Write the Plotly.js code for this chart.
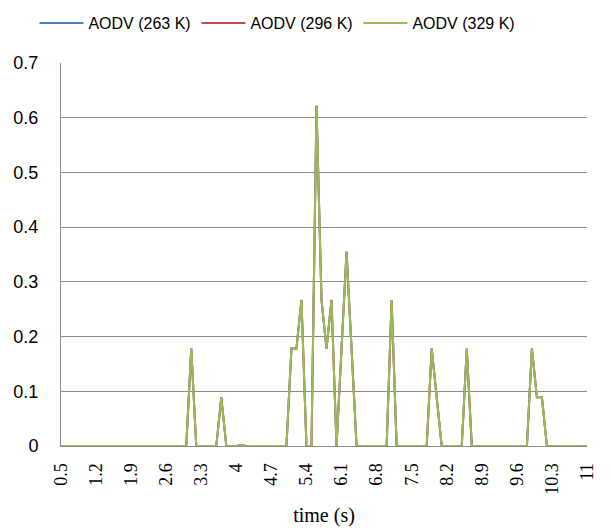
<!DOCTYPE html>
<html>
<head>
<meta charset="utf-8">
<script src="https://cdn.plot.ly/plotly-3.0.1.min.js"></script>
<style>html,body{margin:0;padding:0;background:#fff;}#chart{width:611px;height:530px;}</style>
</head>
<body>
<div id="chart"></div>
<script>
const seriesNames = ["AODV (263 K)", "AODV (296 K)", "AODV (329 K)"];
const seriesColors = ["#4F81BD", "#C0504D", "#9BBB59"];

const timeS = [
  0.5, 0.6, 0.7, 0.8, 0.9, 1.0, 1.1, 1.2, 1.3, 1.4,
  1.5, 1.6, 1.7, 1.8, 1.9, 2.0, 2.1, 2.2, 2.3, 2.4,
  2.5, 2.6, 2.7, 2.8, 2.9, 3.0, 3.1, 3.2, 3.3, 3.4,
  3.5, 3.6, 3.7, 3.8, 3.9, 4.0, 4.1, 4.2, 4.3, 4.4,
  4.5, 4.6, 4.7, 4.8, 4.9, 5.0, 5.1, 5.2, 5.3, 5.4,
  5.5, 5.6, 5.7, 5.8, 5.9, 6.0, 6.1, 6.2, 6.3, 6.4,
  6.5, 6.6, 6.7, 6.8, 6.9, 7.0, 7.1, 7.2, 7.3, 7.4,
  7.5, 7.6, 7.7, 7.8, 7.9, 8.0, 8.1, 8.2, 8.3, 8.4,
  8.5, 8.6, 8.7, 8.8, 8.9, 9.0, 9.1, 9.2, 9.3, 9.4,
  9.5, 9.6, 9.7, 9.8, 9.9, 10.0, 10.1, 10.2, 10.3, 10.4,
  10.5, 10.6, 10.7, 10.8, 10.9, 11.0
];

const aodv263 = [
  0, 0, 0, 0, 0, 0, 0, 0, 0, 0,
  0, 0, 0, 0, 0, 0, 0, 0, 0, 0,
  0, 0, 0, 0, 0, 0, 0.178, 0, 0, 0,
  0, 0, 0.089, 0, 0, 0, 0.002, 0, 0, 0,
  0, 0, 0, 0, 0, 0, 0.178, 0.178, 0.267, 0,
  0, 0.622, 0.267, 0.178, 0.267, 0, 0.178, 0.355, 0.178, 0,
  0, 0, 0, 0, 0, 0, 0.267, 0, 0, 0,
  0, 0, 0, 0, 0.178, 0.089, 0, 0, 0, 0,
  0, 0.178, 0, 0, 0, 0, 0, 0, 0, 0,
  0, 0, 0, 0, 0.178, 0.089, 0.089, 0, 0, 0,
  0, 0, 0, 0, 0, 0
];
const aodv296 = [
  0, 0, 0, 0, 0, 0, 0, 0, 0, 0,
  0, 0, 0, 0, 0, 0, 0, 0, 0, 0,
  0, 0, 0, 0, 0, 0, 0.178, 0, 0, 0,
  0, 0, 0.089, 0, 0, 0, 0.002, 0, 0, 0,
  0, 0, 0, 0, 0, 0, 0.178, 0.178, 0.267, 0,
  0, 0.622, 0.267, 0.178, 0.267, 0, 0.178, 0.355, 0.178, 0,
  0, 0, 0, 0, 0, 0, 0.267, 0, 0, 0,
  0, 0, 0, 0, 0.178, 0.089, 0, 0, 0, 0,
  0, 0.178, 0, 0, 0, 0, 0, 0, 0, 0,
  0, 0, 0, 0, 0.178, 0.089, 0.089, 0, 0, 0,
  0, 0, 0, 0, 0, 0
];
const aodv329 = [
  0, 0, 0, 0, 0, 0, 0, 0, 0, 0,
  0, 0, 0, 0, 0, 0, 0, 0, 0, 0,
  0, 0, 0, 0, 0, 0, 0.178, 0, 0, 0,
  0, 0, 0.089, 0, 0, 0, 0.002, 0, 0, 0,
  0, 0, 0, 0, 0, 0, 0.178, 0.178, 0.267, 0,
  0, 0.622, 0.267, 0.178, 0.267, 0, 0.178, 0.355, 0.178, 0,
  0, 0, 0, 0, 0, 0, 0.267, 0, 0, 0,
  0, 0, 0, 0, 0.178, 0.089, 0, 0, 0, 0,
  0, 0.178, 0, 0, 0, 0, 0, 0, 0, 0,
  0, 0, 0, 0, 0.178, 0.089, 0.089, 0, 0, 0,
  0, 0, 0, 0, 0, 0
];

const xTickVals = [0.5, 1.2, 1.9, 2.6, 3.3, 4.0, 4.7, 5.4, 6.1, 6.8, 7.5, 8.2, 8.9, 9.6, 10.3, 11.0];
const xTickText = ["0.5", "1.2", "1.9", "2.6", "3.3", "4", "4.7", "5.4", "6.1", "6.8", "7.5", "8.2", "8.9", "9.6", "10.3", "11"];
const yTickVals = [0, 0.1, 0.2, 0.3, 0.4, 0.5, 0.6, 0.7];
const yTickText = ["0", "0.1", "0.2", "0.3", "0.4", "0.5", "0.6", "0.7"];

const seriesValues = [aodv263, aodv296, aodv329];
const traces = seriesValues.map((vals, k) => ({
  type: "scatter",
  mode: "lines",
  name: seriesNames[k],
  x: timeS,
  y: vals,
  line: {color: seriesColors[k], width: 2}
}));

const grid = "#8C8C8C";
const layout = {
  width: 611,
  height: 530,
  margin: {l: 61, r: 24, t: 63, b: 84, autoexpand: false},
  paper_bgcolor: "#ffffff",
  plot_bgcolor: "#ffffff",
  showlegend: true,
  legend: {
    orientation: "h",
    x: -0.0505, xanchor: "left",
    y: 1.104, yanchor: "middle",
    font: {family: "Liberation Sans, Arial, sans-serif", size: 16, color: "#000"},
    itemwidth: 44,
    entrywidth: 103, entrywidthmode: "pixels",
    bgcolor: "rgba(0,0,0,0)"
  },
  xaxis: {
    type: "linear",
    range: [0.5, 11],
    tickmode: "array",
    tickvals: xTickVals,
    ticktext: xTickText,
    tickangle: -90,
    tickfont: {family: "Liberation Serif, Times New Roman, serif", size: 18, color: "#000"},
    ticks: "",
    ticklabelstandoff: 9,
    showgrid: false,
    zeroline: false,
    showline: true,
    linecolor: grid,
    linewidth: 1,
    title: {text: "time (s)", font: {family: "Liberation Serif, Times New Roman, serif", size: 20, color: "#000"}, standoff: 14}
  },
  yaxis: {
    range: [0, 0.7],
    tickmode: "array",
    tickvals: yTickVals,
    ticktext: yTickText,
    tickfont: {family: "Liberation Sans, Arial, sans-serif", size: 18, color: "#000"},
    ticks: "",
    ticklabelstandoff: 18,
    showgrid: true,
    gridcolor: grid,
    gridwidth: 1,
    zeroline: false,
    showline: true,
    linecolor: grid,
    linewidth: 1
  }
};

Plotly.newPlot("chart", traces, layout, {displayModeBar: false, staticPlot: true});
</script>
</body>
</html>
